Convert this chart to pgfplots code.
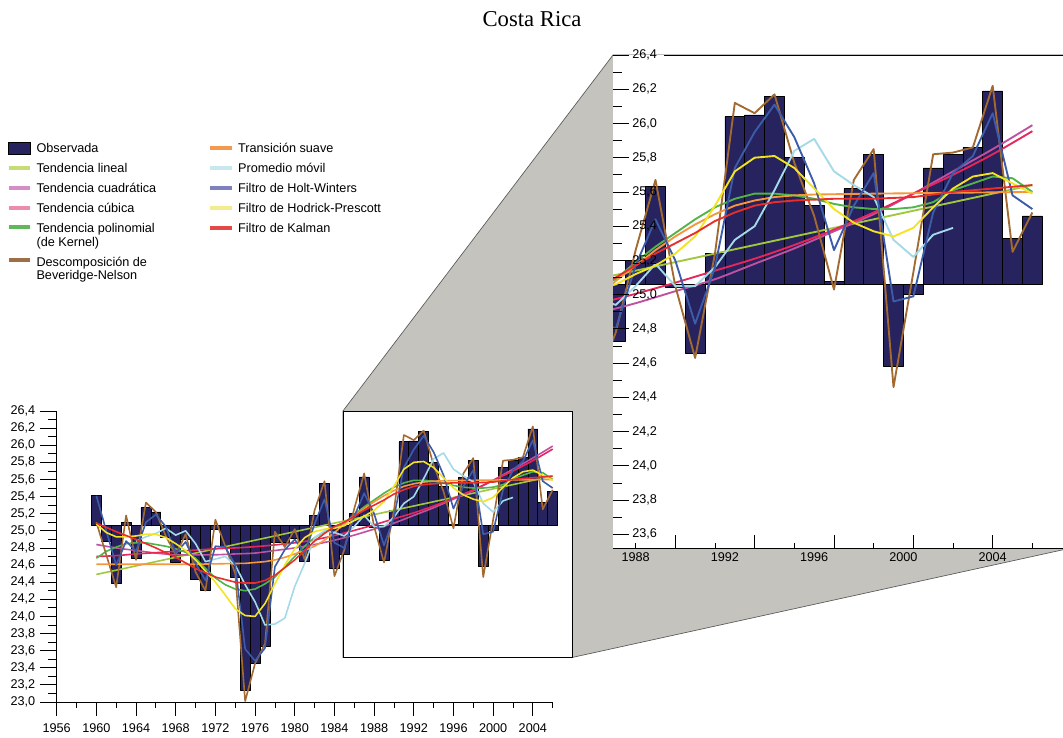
\documentclass[border=0pt]{standalone}
\usepackage{fontspec}
\setmainfont{Liberation Sans}
\newfontfamily\titlefont{Liberation Serif}
\usepackage{pgfplots}
\pgfplotsset{compat=1.18}
\usepackage{pgfplotstable}

\definecolor{obs}{RGB}{38,35,94}
\definecolor{clin}{RGB}{160,200,60}
\definecolor{ccuad}{RGB}{192,80,160}
\definecolor{ccub}{RGB}{232,38,92}
\definecolor{cker}{RGB}{80,180,72}
\definecolor{cbn}{RGB}{162,106,48}
\definecolor{ctra}{RGB}{246,150,60}
\definecolor{cmov}{RGB}{164,218,232}
\definecolor{chw}{RGB}{60,92,170}
\definecolor{chp}{RGB}{244,228,32}
\definecolor{ckal}{RGB}{232,46,44}
\definecolor{llin}{RGB}{198,220,118}
\definecolor{lcuad}{RGB}{214,140,196}
\definecolor{lcub}{RGB}{238,138,170}
\definecolor{lker}{RGB}{96,184,90}
\definecolor{lbn}{RGB}{158,110,70}
\definecolor{ltra}{RGB}{244,154,80}
\definecolor{lmov}{RGB}{200,232,240}
\definecolor{lhw}{RGB}{126,128,192}
\definecolor{lhp}{RGB}{244,234,142}
\definecolor{lkal}{RGB}{226,74,72}
\definecolor{bggray}{RGB}{196,195,190}

% Observada: bar outlines around the base level 25.06
\pgfplotstableread{
x y
1959.5 25.06
1959.5 25.41
1960.5 25.41
1960.5 25.06
1960.5 24.88
1961.5 24.88
1961.5 25.06
1961.5 24.39
1962.5 24.39
1962.5 25.06
1962.5 25.10
1963.5 25.10
1963.5 25.06
1963.5 24.68
1964.5 24.68
1964.5 25.06
1964.5 25.27
1965.5 25.27
1965.5 25.06
1965.5 25.22
1966.5 25.22
1966.5 25.06
1966.5 24.92
1967.5 24.92
1967.5 25.06
1967.5 24.63
1968.5 24.63
1968.5 25.06
1968.5 24.90
1969.5 24.90
1969.5 25.06
1969.5 24.43
1970.5 24.43
1970.5 25.06
1970.5 24.30
1971.5 24.30
1971.5 25.06
1971.5 25.02
1972.5 25.02
1972.5 25.06
1972.5 24.80
1973.5 24.80
1973.5 25.06
1973.5 24.46
1974.5 24.46
1974.5 25.06
1974.5 23.14
1975.5 23.14
1975.5 25.06
1975.5 23.45
1976.5 23.45
1976.5 25.06
1976.5 23.65
1977.5 23.65
1977.5 25.06
1977.5 24.86
1978.5 24.86
1978.5 25.06
1978.5 24.87
1979.5 24.87
1979.5 25.06
1979.5 24.91
1980.5 24.91
1980.5 25.06
1980.5 24.64
1981.5 24.64
1981.5 25.06
1981.5 25.18
1982.5 25.18
1982.5 25.06
1982.5 25.55
1983.5 25.55
1983.5 25.06
1983.5 24.56
1984.5 24.56
1984.5 25.06
1984.5 24.73
1985.5 24.73
1985.5 25.06
1985.5 25.20
1986.5 25.20
1986.5 25.06
1986.5 25.63
1987.5 25.63
1987.5 25.06
1987.5 25.04
1988.5 25.04
1988.5 25.06
1988.5 24.66
1989.5 24.66
1989.5 25.06
1989.5 25.24
1990.5 25.24
1990.5 25.06
1990.5 26.04
1991.5 26.04
1991.5 25.06
1991.5 26.05
1992.5 26.05
1992.5 25.06
1992.5 26.16
1993.5 26.16
1993.5 25.06
1993.5 25.80
1994.5 25.80
1994.5 25.06
1994.5 25.52
1995.5 25.52
1995.5 25.06
1995.5 25.075
1996.5 25.075
1996.5 25.06
1996.5 25.62
1997.5 25.62
1997.5 25.06
1997.5 25.82
1998.5 25.82
1998.5 25.06
1998.5 24.58
1999.5 24.58
1999.5 25.06
1999.5 25.00
2000.5 25.00
2000.5 25.06
2000.5 25.74
2001.5 25.74
2001.5 25.06
2001.5 25.82
2002.5 25.82
2002.5 25.06
2002.5 25.86
2003.5 25.86
2003.5 25.06
2003.5 26.19
2004.5 26.19
2004.5 25.06
2004.5 25.33
2005.5 25.33
2005.5 25.06
2005.5 25.46
2006.5 25.46
2006.5 25.06
}\tbars

\pgfplotstableread{
x y
1960 24.49
2006 25.64
}\tlin

\pgfplotstableread{
x y
1960 24.84
1962 24.80
1964 24.77
1966 24.74
1968 24.72
1970 24.72
1972 24.72
1974 24.73
1976 24.74
1978 24.77
1980 24.80
1982 24.84
1984 24.89
1986 24.95
1988 25.02
1990 25.09
1992 25.18
1994 25.27
1996 25.37
1998 25.47
2000 25.59
2002 25.72
2004 25.85
2006 25.99
}\tcuad

\pgfplotstableread{
x y
1960 24.70
1962 24.71
1964 24.73
1966 24.745
1968 24.76
1970 24.775
1972 24.79
1974 24.80
1976 24.815
1978 24.835
1980 24.86
1982 24.895
1984 24.945
1986 25.005
1988 25.07
1990 25.14
1992 25.21
1994 25.29
1996 25.38
1998 25.48
2000 25.59
2002 25.70
2004 25.82
2006 25.955
}\tcub

\pgfplotstableread{
x y
1960 24.68
1961 24.76
1962 24.81
1963 24.85
1964 24.86
1965 24.86
1966 24.84
1967 24.82
1968 24.79
1969 24.75
1970 24.68
1971 24.56
1972 24.45
1973 24.37
1974 24.32
1975 24.30
1976 24.32
1977 24.38
1978 24.46
1979 24.58
1980 24.70
1981 24.82
1982 24.92
1983 24.99
1984 25.04
1985 25.09
1986 25.19
1987 25.28
1988 25.36
1989 25.44
1990 25.51
1991 25.56
1992 25.59
1993 25.59
1994 25.58
1995 25.56
1996 25.53
1997 25.51
1998 25.50
1999 25.50
2000 25.51
2001 25.54
2002 25.61
2003 25.65
2004 25.69
2005 25.68
2006 25.60
}\tker

\pgfplotstableread{
x y
1960 25.10
1961 24.72
1962 24.34
1963 25.18
1964 24.66
1965 25.33
1966 25.22
1967 24.94
1968 24.72
1969 24.96
1970 24.52
1971 24.30
1972 25.13
1973 24.82
1974 24.50
1975 23.01
1976 23.45
1977 23.68
1978 24.99
1979 24.81
1980 25.02
1981 24.66
1982 25.24
1983 25.58
1984 24.47
1985 24.78
1986 25.26
1987 25.67
1988 25.05
1989 24.63
1990 25.24
1991 26.12
1992 26.06
1993 26.17
1994 25.77
1995 25.46
1996 25.03
1997 25.67
1998 25.85
1999 24.46
2000 25.13
2001 25.82
2002 25.83
2003 25.86
2004 26.22
2005 25.25
2006 25.48
}\tbn

\pgfplotstableread{
x y
1960 24.61
1965 24.61
1970 24.61
1975 24.62
1977 24.64
1978 24.66
1979 24.69
1980 24.73
1981 24.77
1982 24.82
1983 24.89
1984 24.98
1985 25.08
1986 25.17
1987 25.26
1988 25.34
1989 25.41
1990 25.47
1991 25.52
1992 25.55
1993 25.57
1994 25.58
1995 25.585
1998 25.59
2002 25.595
2006 25.60
}\ttra

\pgfplotstableread{
x y
1964 24.88
1965 24.93
1966 24.97
1967 25.03
1968 24.95
1969 25.00
1970 24.85
1971 24.64
1972 24.67
1973 24.70
1974 24.60
1975 24.37
1976 24.17
1977 23.90
1978 23.91
1979 23.98
1980 24.35
1981 24.62
1982 24.92
1983 25.00
1984 24.98
1985 24.94
1986 25.05
1987 25.18
1988 25.05
1989 25.05
1990 25.16
1991 25.32
1992 25.40
1993 25.61
1994 25.84
1995 25.91
1996 25.72
1997 25.64
1998 25.57
1999 25.32
2000 25.22
2001 25.35
2002 25.39
}\tmov

\pgfplotstableread{
x y
1960 25.41
1961 25.00
1962 24.60
1963 24.88
1964 24.76
1965 25.10
1966 25.19
1967 25.05
1968 24.74
1969 24.87
1970 24.62
1971 24.42
1972 24.82
1973 24.81
1974 24.60
1975 23.62
1976 23.48
1977 23.63
1978 24.58
1979 24.78
1980 24.90
1981 24.73
1982 25.08
1983 25.37
1984 24.86
1985 24.80
1986 25.17
1987 25.44
1988 25.20
1989 24.83
1990 25.16
1991 25.74
1992 25.95
1993 26.11
1994 25.92
1995 25.65
1996 25.26
1997 25.52
1998 25.71
1999 24.96
2000 24.99
2001 25.48
2002 25.71
2003 25.81
2004 26.06
2005 25.58
2006 25.50
}\thw

\pgfplotstableread{
x y
1960 25.08
1961 24.98
1962 24.93
1963 24.93
1964 24.94
1965 24.96
1966 24.96
1967 24.92
1968 24.85
1969 24.77
1970 24.66
1971 24.53
1972 24.40
1973 24.25
1974 24.09
1975 24.01
1976 24.00
1977 24.15
1978 24.38
1979 24.60
1980 24.79
1981 24.92
1982 24.99
1983 25.02
1984 25.03
1985 25.06
1986 25.12
1987 25.17
1988 25.24
1989 25.34
1990 25.52
1991 25.72
1992 25.80
1993 25.81
1994 25.74
1995 25.62
1996 25.50
1997 25.42
1998 25.37
1999 25.34
2000 25.39
2001 25.51
2002 25.62
2003 25.69
2004 25.71
2005 25.65
2006 25.59
}\thp

\pgfplotstableread{
x y
1960 25.09
1962 24.99
1964 24.90
1966 24.80
1968 24.69
1970 24.56
1972 24.46
1974 24.40
1975 24.39
1976 24.39
1977 24.42
1978 24.48
1979 24.57
1980 24.66
1981 24.77
1982 24.88
1983 24.97
1984 25.05
1985 25.10
1986 25.17
1987 25.24
1988 25.30
1989 25.36
1990 25.43
1991 25.48
1992 25.52
1993 25.54
1994 25.55
1996 25.56
1998 25.56
2000 25.57
2002 25.60
2004 25.62
2006 25.64
}\tkal

\newcommand{\plotall}{%
  \addplot[fill=obs, draw=black, line width=0.5pt, line join=round] table {\tbars} -- cycle;
  \addplot[clin, lw] table {\tlin};
  \addplot[ccuad, lw, smooth] table {\tcuad};
  \addplot[ccub, lw, smooth] table {\tcub};
  \addplot[cker, lw] table {\tker};
  \addplot[cbn, lw] table {\tbn};
  \addplot[ctra, lw] table {\ttra};
  \addplot[cmov, lw] table {\tmov};
  \addplot[chw, lw] table {\thw};
  \addplot[chp, lw] table {\thp};
  \addplot[ckal, lw] table {\tkal};
}

\pgfplotsset{
  obslegend/.style={legend image code/.code={\draw[fill=obs,draw=black,line width=0.5pt] (0pt,-4.5pt) rectangle (16.25pt,4.5pt);}},
  legaxis/.style={hide axis, scale only axis, width=10pt, height=10pt, xmin=0, xmax=1, ymin=0, ymax=1,
    anchor=north west, legend cell align=left,
    legend style={at={(0,1)}, anchor=north west, draw=none, fill=none, inner sep=0pt, outer sep=0pt,
      font=\fontsize{9.5}{10}\selectfont, row sep=0pt, column sep=3.25pt,
      nodes={inner sep=0pt, outer sep=0pt, text height=11pt, text depth=4pt}},
    legend image code/.code={\draw[##1, line width=3pt] (0pt,0pt) -- (16.25pt,0pt);}},
}

\begin{document}
\begin{tikzpicture}
\useasboundingbox (0,0) rectangle (797.25pt,553.5pt);
\clip (0,0) rectangle (797.25pt,553.5pt);

% zoom connection
\filldraw[fill=bggray, draw=black!65, line width=0.5pt, line join=round]
  (257.2pt,245.25pt) -- (459.75pt,512.25pt) -- (803.3pt,512.25pt) -- (803.3pt,142.5pt)
  -- (429.0pt,60.38pt) -- (257.2pt,60.38pt) -- cycle;
\fill[white] (459.75pt,142.5pt) rectangle (803.3pt,512.25pt);
\filldraw[fill=white, draw=black, line width=0.6pt] (257.2pt,60.38pt) rectangle (429.0pt,245.25pt);

\node[anchor=base, font=\titlefont\fontsize{17}{20}\selectfont] at (399pt,533.25pt) {Costa Rica};

% main axis
\begin{axis}[
  at={(42.5pt,27pt)}, anchor=south west, scale only axis,
  width=372pt, height=218.25pt,
  xmin=1956, xmax=2006, ymin=23, ymax=26.4,
  clip=false,
  lw/.style={line width=1.2pt, line join=round},
  axis x line=bottom, axis y line=left,
  axis line style={-, black, line width=0.6pt},
  tick align=outside,
  xtick={1956,1960,1964,1968,1972,1976,1980,1984,1988,1992,1996,2000,2004},
  minor xtick={1958,1962,1966,1970,1974,1978,1982,1986,1990,1994,1998,2002,2006},
  ytick={23,23.2,23.4,23.6,23.8,24,24.2,24.4,24.6,24.8,25,25.2,25.4,25.6,25.8,26,26.2,26.4},
  minor ytick={23.1,23.3,23.5,23.7,23.9,24.1,24.3,24.5,24.7,24.9,25.1,25.3,25.5,25.7,25.9,26.1,26.3},
  major tick length=12.5pt, minor tick length=6.25pt,
  x tick style={black, line width=0.6pt, /pgfplots/major tick length=10.5pt, /pgfplots/minor tick length=4.5pt},
  y tick style={black, line width=0.6pt},
  /pgf/number format/assume math mode=true,
  tick label style={font=\fontsize{9.5}{10}\selectfont, black},
  xticklabel style={/pgf/number format/set thousands separator={}},
  yticklabel style={/pgf/number format/.cd, fixed, fixed zerofill, precision=1, use comma},
]
\plotall
\end{axis}

% magnified axis
\begin{axis}[
  at={(459.75pt,142.5pt)}, anchor=south west, scale only axis,
  width=337.5pt, height=369.75pt,
  xmin=1984.86, xmax=2007.545, ymin=23.52, ymax=26.4,
  axis on top,
  lw/.style={line width=1.4pt, line join=round},
  axis x line=bottom, axis y line=left,
  axis line style={-, black, line width=0.6pt},
  y axis line style={draw=none},
  tick align=inside,
  xtick={1988,1992,1996,2000,2004},
  xticklabels={\mbox{},\mbox{},\mbox{},\mbox{},\mbox{}},
  extra x ticks={1986,1990.5,1995,1999.5,2004},
  extra x tick labels={1988,1992,1996,2000,2004},
  extra x tick style={major tick length=0pt, tick style={draw=none}},
  minor xtick={1986,1990,1994,1998,2002,2006},
  ytick={23.6,23.8,24,24.2,24.4,24.6,24.8,25,25.2,25.4,25.6,25.8,26,26.2,26.4},
  minor ytick={23.7,23.9,24.1,24.3,24.5,24.7,24.9,25.1,25.3,25.5,25.7,25.9,26.1,26.3},
  major tick length=11.75pt, minor tick length=6.75pt,
  x tick style={black, line width=0.6pt, /pgfplots/major tick length=10pt, /pgfplots/minor tick length=3.75pt},
  y tick style={black, line width=0.6pt},
  /pgf/number format/assume math mode=true,
  tick label style={font=\fontsize{9.5}{10}\selectfont, black},
  xticklabel style={/pgf/number format/set thousands separator={}},
  yticklabel style={anchor=west, xshift=11pt, /pgf/number format/.cd, fixed, fixed zerofill, precision=1, use comma},
  after end axis/.code={\draw[black, line width=0.6pt] (axis cs:1987.43,26.4) -- (rel axis cs:1,1);},
]
\plotall
\end{axis}

% legend, first column
\begin{axis}[legaxis, at={(4.9pt,449.9pt)}]
\addlegendimage{obslegend}
\addlegendentry{Observada}
\addlegendimage{llin}
\addlegendentry{Tendencia lineal}
\addlegendimage{lcuad}
\addlegendentry{Tendencia cuadrática}
\addlegendimage{lcub}
\addlegendentry{Tendencia cúbica}
\addlegendimage{lker}
\addlegendentry[text depth=2.5pt]{Tendencia polinomial}
\addlegendimage{empty legend}
\addlegendentry[text height=7.5pt]{(de Kernel)}
\addlegendimage{lbn}
\addlegendentry[text depth=2.5pt]{Descomposición de}
\addlegendimage{empty legend}
\addlegendentry[text height=7.5pt]{Beveridge-Nelson}
\end{axis}

% legend, second column
\begin{axis}[legaxis, at={(156.1pt,449.9pt)}]
\addlegendimage{ltra}
\addlegendentry{Transición suave}
\addlegendimage{lmov}
\addlegendentry{Promedio móvil}
\addlegendimage{lhw}
\addlegendentry{Filtro de Holt-Winters}
\addlegendimage{lhp}
\addlegendentry{Filtro de Hodrick-Prescott}
\addlegendimage{lkal}
\addlegendentry{Filtro de Kalman}
\end{axis}
\end{tikzpicture}
\end{document}
